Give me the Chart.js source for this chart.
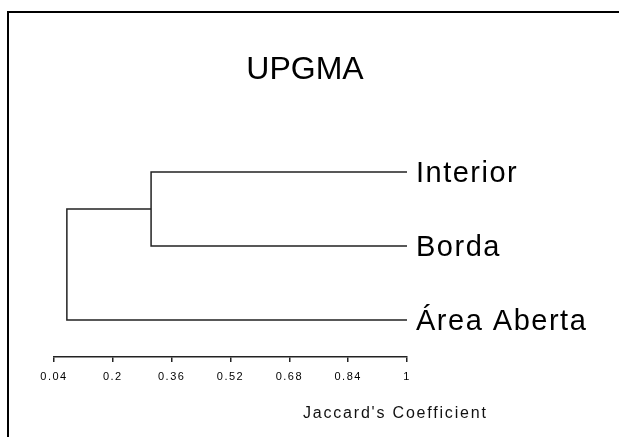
<!DOCTYPE html>
<html>
<head>
<meta charset="utf-8">
<script src="https://cdn.jsdelivr.net/npm/chart.js@4/dist/chart.umd.min.js"></script>
<style>
  html, body { margin: 0; padding: 0; background: #fff; overflow: hidden; }
  #frame {
    position: absolute; left: 7px; top: 11px; right: -10px; bottom: -10px;
    border-left: 2px solid #000; border-top: 2px solid #000;
  }
  #chart { position: absolute; left: 0; top: 0; }
</style>
</head>
<body>
<div id="frame"></div>
<canvas id="chart" width="619" height="437"></canvas>
<script>
// Sites clustered by UPGMA on Jaccard similarity
const leaves = ['Interior', 'Borda', 'Área Aberta'];
// Each merge joins two nodes: 0..n-1 are leaves, n.. are earlier merges
const merges = [[0, 1], [3, 2]];
const mergeLevels = [0.304, 0.075];
const leafLevel = 1;
const xTicks = [0.04, 0.2, 0.36, 0.52, 0.68, 0.84, 1];
const axisTitle = "Jaccard's Coefficient";
const chartTitle = 'UPGMA';

const FONT = "'Liberation Sans', Arial, sans-serif";
const INK = '#222';

// Node positions: x = similarity level, y = row (first leaf on top)
const n = leaves.length;
const nodes = leaves.map((_, i) => ({ x: leafLevel, y: n - i }));
merges.forEach(([a, b], k) => {
  nodes.push({ x: mergeLevels[k], y: (nodes[a].y + nodes[b].y) / 2 });
});

// One bracket per merge: child A -> join level -> child B
const datasets = merges.map(([a, b], k) => ({
  data: [
    { x: nodes[a].x, y: nodes[a].y },
    { x: mergeLevels[k], y: nodes[a].y },
    { x: mergeLevels[k], y: nodes[b].y },
    { x: nodes[b].x, y: nodes[b].y }
  ],
  xAxisID: 'x',
  yAxisID: 'y',
  borderColor: INK,
  borderWidth: 1.5,
  pointRadius: 0,
  fill: false,
  tension: 0
}));

// Wider tracking for the axis labels, plus the caption under the axis
const textSpacing = {
  id: 'textSpacing',
  beforeDraw(chart) {
    const spacing = { x: '1.5px', y: '1.5px' };
    for (const id in spacing) {
      const s = chart.scales[id];
      if (s && !s._spaced) {
        const drawLabels = s.drawLabels;
        s.drawLabels = function (area) {
          const c = this.ctx;
          c.save();
          c.letterSpacing = spacing[id];
          drawLabels.call(this, area);
          c.restore();
        };
        s._spaced = true;
      }
    }
  },
  afterDraw(chart) {
    const c = chart.ctx;
    c.save();
    c.font = '16px ' + FONT;
    c.letterSpacing = '1.8px';
    c.fillStyle = '#111';
    c.textAlign = 'left';
    c.textBaseline = 'middle';
    c.fillText(axisTitle, 303, 414);
    c.restore();
  }
};

new Chart(document.getElementById('chart'), {
  type: 'line',
  data: { datasets },
  options: {
    responsive: false,
    animation: false,
    events: [],
    layout: { padding: { left: 0, right: 9, top: 0, bottom: 57 } },
    plugins: {
      legend: { display: false },
      tooltip: { enabled: false },
      title: {
        display: true,
        text: chartTitle,
        color: '#000',
        font: { family: FONT, size: 32, weight: 'normal' },
        padding: { top: 51, bottom: 45.6 }
      }
    },
    scales: {
      x: {
        type: 'linear',
        min: xTicks[0],
        max: xTicks[xTicks.length - 1],
        afterBuildTicks: (scale) => { scale.ticks = xTicks.map(v => ({ value: v })); },
        afterFit: (scale) => { scale.height = 23; },
        grid: { drawOnChartArea: false, drawTicks: true, tickLength: 5, color: INK, lineWidth: 1.5 },
        border: { display: true, color: INK, width: 1.5 },
        ticks: {
          padding: 8,
          color: '#000',
          maxRotation: 0,
          autoSkip: false,
          font: { family: FONT, size: 11 },
          callback: (v) => String(v)
        }
      },
      // empty left margin that keeps the tree clear of the frame
      margin: {
        type: 'linear',
        axis: 'y',
        position: 'left',
        afterFit: (scale) => { scale.width = 54; },
        grid: { display: false, drawTicks: false },
        border: { display: false },
        ticks: { display: false }
      },
      y: {
        type: 'linear',
        position: 'right',
        min: 0.5,
        max: n + 0.5,
        afterBuildTicks: (scale) => { scale.ticks = leaves.map((_, i) => ({ value: n - i })); },
        afterFit: (scale) => { scale.width = 203; },
        grid: { display: false, drawTicks: false },
        border: { display: false },
        ticks: {
          padding: 9,
          labelOffset: 2,
          color: '#000',
          autoSkip: false,
          font: { family: FONT, size: 29 },
          callback: (v) => leaves[n - v]
        }
      }
    }
  },
  plugins: [textSpacing]
});
</script>
</body>
</html>
